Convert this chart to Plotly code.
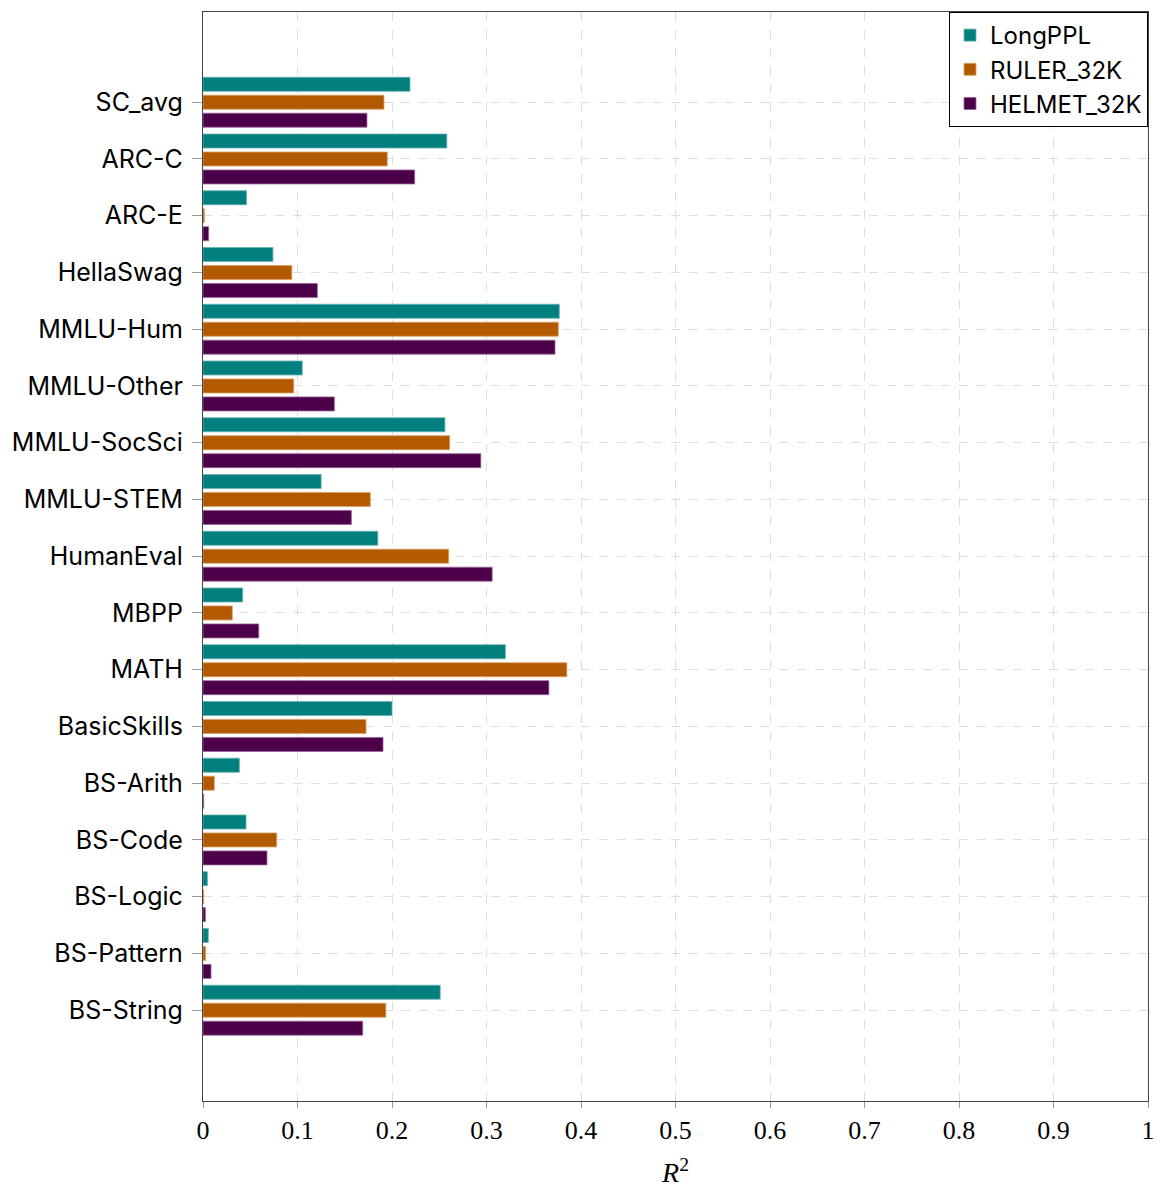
import plotly.graph_objects as go

categories = ["SC_avg", "ARC-C", "ARC-E", "HellaSwag", "MMLU-Hum", "MMLU-Other",
              "MMLU-SocSci", "MMLU-STEM", "HumanEval", "MBPP", "MATH", "BasicSkills",
              "BS-Arith", "BS-Code", "BS-Logic", "BS-Pattern", "BS-String"]

longppl = [0.219, 0.258, 0.046, 0.074, 0.377, 0.105, 0.256, 0.125, 0.185, 0.042,
           0.320, 0.200, 0.0385, 0.0455, 0.0046, 0.0056, 0.251]
ruler_32k = [0.1915, 0.195, 0.0014, 0.094, 0.376, 0.096, 0.261, 0.177, 0.260, 0.031,
             0.385, 0.1725, 0.012, 0.078, 0.0007, 0.0028, 0.1935]
helmet_32k = [0.1735, 0.224, 0.006, 0.121, 0.3725, 0.139, 0.294, 0.157, 0.306, 0.059,
              0.366, 0.1905, 0.0007, 0.0677, 0.0025, 0.0085, 0.169]

x_ticks = [0, 0.1, 0.2, 0.3, 0.4, 0.5, 0.6, 0.7, 0.8, 0.9, 1]
x_tick_labels = ["0", "0.1", "0.2", "0.3", "0.4", "0.5", "0.6", "0.7", "0.8", "0.9", "1"]

series = [
    ("LongPPL", longppl, "#007F7F", "#66B2B2"),
    ("RULER_32K", ruler_32k, "#B35A00", "#D9A066"),
    ("HELMET_32K", helmet_32k, "#4C004A", "#9A6698"),
]

fig = go.Figure()
for name, vals, fill, edge in series:
    fig.add_trace(go.Bar(
        y=categories, x=vals, name=name, orientation="h",
        marker=dict(color=fill, line=dict(color=edge, width=0.8)),
    ))

sans = "Inter, Inter Variable, Roboto, sans-serif"
serif = "Liberation Serif, DejaVu Serif, serif"

fig.update_layout(
    width=1159, height=1190,
    margin=dict(l=203, r=11, t=12, b=89, autoexpand=False),
    plot_bgcolor="white", paper_bgcolor="white",
    barmode="group", bargap=0.05, bargroupgap=0.22,
    showlegend=True,
    legend=dict(
        x=1, y=1, xanchor="right", yanchor="top",
        bgcolor="white", bordercolor="black", borderwidth=1,
        font=dict(family=sans, size=24, color="black"),
        traceorder="normal", itemwidth=30, tracegroupgap=0,
    ),
)

fig.update_xaxes(
    range=[0, 1], tickvals=x_ticks, ticktext=x_tick_labels,
    showgrid=True, gridcolor="#DDDDDD", griddash="dash", gridwidth=1,
    showline=True, linecolor="#444444", linewidth=1.2, mirror=True,
    ticks="outside", ticklen=6, tickcolor="#999999",
    tickfont=dict(family=serif, size=26, color="black"),
    zeroline=False, automargin=False,
    title=dict(text="<i>R</i><sup>2</sup>", font=dict(family=serif, size=28, color="black"), standoff=18),
)

fig.update_yaxes(
    type="category", categoryorder="array", categoryarray=categories,
    range=[17.6, -1.59],
    showgrid=True, gridcolor="#DDDDDD", griddash="dash", gridwidth=1,
    showline=True, linecolor="#444444", linewidth=1.2, mirror=True,
    ticks="outside", ticklen=10, tickcolor="#999999", ticklabelstandoff=4,
    tickfont=dict(family=sans, size=25, color="black"),
    zeroline=False, automargin=False,
)

fig.write_html("out.html")
